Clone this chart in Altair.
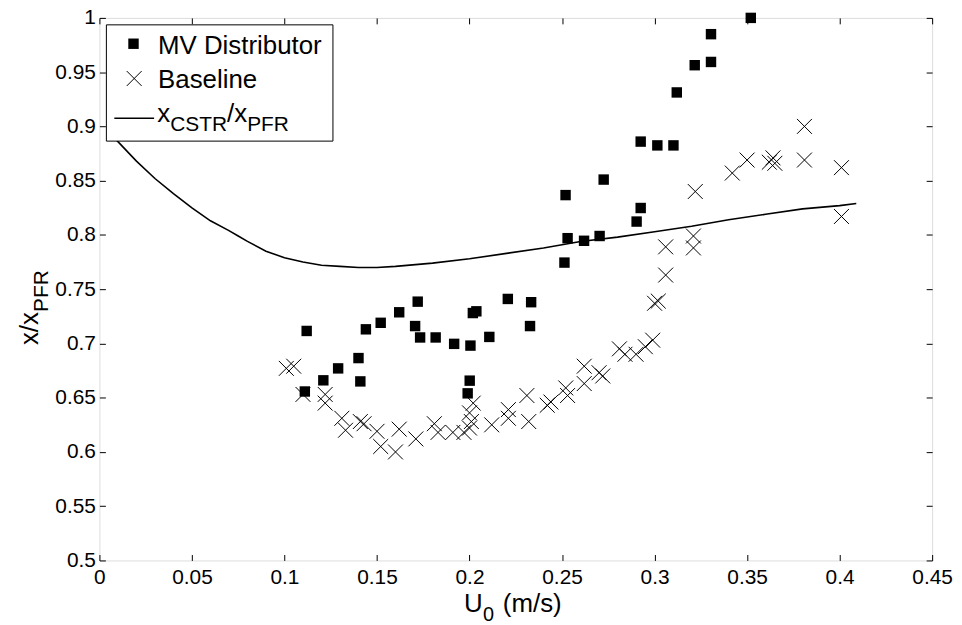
import altair as alt
import pandas as pd

# ---------------- data ----------------
mv_u = [0.112, 0.111, 0.121, 0.129, 0.140, 0.141, 0.144, 0.152, 0.162, 0.172,
        0.1706, 0.1733, 0.1817, 0.1917, 0.2005, 0.2018, 0.2037, 0.2107, 0.2207, 0.2333,
        0.2327, 0.2001, 0.199, 0.2519, 0.253, 0.2513, 0.2619, 0.2703, 0.2725, 0.2925,
        0.2903, 0.2925, 0.3015, 0.3102, 0.312, 0.3217, 0.3305, 0.3305, 0.352]
mv_x = [0.7115, 0.6557, 0.666, 0.677, 0.6865, 0.665, 0.713, 0.719, 0.7287, 0.7385,
        0.716, 0.7055, 0.7055, 0.6996, 0.698, 0.728, 0.7296, 0.706, 0.741, 0.738,
        0.716, 0.6657, 0.654, 0.8367, 0.797, 0.7745, 0.7946, 0.799, 0.851, 0.8248,
        0.8123, 0.886, 0.8825, 0.8825, 0.9313, 0.9564, 0.9594, 0.985, 1.0]

base_u = [0.101, 0.105, 0.110, 0.122, 0.122, 0.131, 0.133, 0.141, 0.143, 0.150,
          0.152, 0.160, 0.162, 0.171, 0.181, 0.183, 0.191, 0.197, 0.200, 0.200,
          0.202, 0.201, 0.212, 0.221, 0.221, 0.231, 0.232, 0.242, 0.244, 0.252,
          0.253, 0.262, 0.262, 0.270, 0.272, 0.281, 0.284, 0.290, 0.295, 0.299,
          0.300, 0.302, 0.306, 0.306, 0.321, 0.321, 0.322, 0.342, 0.350, 0.362,
          0.364, 0.365, 0.381, 0.381, 0.401, 0.401]
base_x = [0.677, 0.679, 0.653, 0.653, 0.645, 0.631, 0.620, 0.628, 0.626, 0.619,
          0.605, 0.600, 0.621, 0.612, 0.626, 0.618, 0.618, 0.618, 0.622, 0.636,
          0.645, 0.628, 0.625, 0.639, 0.631, 0.652, 0.628, 0.643, 0.646, 0.659,
          0.652, 0.679, 0.663, 0.673, 0.670, 0.695, 0.690, 0.690, 0.697, 0.703,
          0.737, 0.739, 0.763, 0.789, 0.799, 0.788, 0.840, 0.857, 0.869, 0.867,
          0.871, 0.866, 0.900, 0.869, 0.862, 0.817]

curve_u = [0.005, 0.01, 0.02, 0.03, 0.04, 0.05, 0.06, 0.07, 0.075, 0.08, 0.09, 0.10,
           0.11, 0.12, 0.13, 0.14, 0.15, 0.16, 0.18, 0.20, 0.22, 0.24, 0.26, 0.28,
           0.30, 0.32, 0.34, 0.36, 0.38, 0.40, 0.409]
curve_x = [0.895, 0.886, 0.868, 0.852, 0.838, 0.825, 0.813, 0.804, 0.799, 0.794,
           0.785, 0.779, 0.775, 0.772, 0.771, 0.770, 0.770, 0.771, 0.774, 0.778,
           0.783, 0.788, 0.794, 0.798, 0.803, 0.808, 0.814, 0.819, 0.824, 0.827,
           0.829]

x_ticks = [0, 0.05, 0.1, 0.15, 0.2, 0.25, 0.3, 0.35, 0.4, 0.45]
y_ticks = [0.5, 0.55, 0.6, 0.65, 0.7, 0.75, 0.8, 0.85, 0.9, 0.95, 1.0]

# ---------------- chart ----------------
W, H = 838, 546
FONT = "Liberation Sans"
CROSS = "M-1,-1L1,1M-1,1L1,-1"

mv_df = pd.DataFrame({"u": mv_u, "x": mv_x})
base_df = pd.DataFrame({"u": base_u, "x": base_x})
curve_df = pd.DataFrame({"u": curve_u, "x": curve_x})
one = pd.DataFrame({"k": [0]})

xs = alt.Scale(domain=[0, 0.45], nice=False, zero=False)
ys = alt.Scale(domain=[0.5, 1.0], nice=False, zero=False)


def label_axis(orient, values, pad):
    return alt.Axis(orient=orient, values=values, format=".2~f", ticks=False, tickSize=0,
                    domain=False, grid=False, labelFontSize=21, labelFont=FONT,
                    labelColor="black", labelPadding=pad, title="", labelFlush=False,
                    labelOverlap=False)


def tick_axis(orient, values):
    return alt.Axis(orient=orient, values=values, offset=-6, ticks=True, tickSize=6,
                    tickColor="black", tickWidth=1, labels=False, domain=False,
                    grid=False, title="")


curve = alt.Chart(curve_df).mark_line(color="black", strokeWidth=1.6).encode(
    x=alt.X("u:Q", scale=xs, axis=label_axis("bottom", x_ticks, 6)),
    y=alt.Y("x:Q", scale=ys, axis=label_axis("left", y_ticks, 4)),
    order="u:Q",
)

squares = alt.Chart(mv_df).mark_point(shape="square", filled=True, size=110,
                                      color="black", opacity=1).encode(
    x=alt.X("u:Q", scale=xs, axis=tick_axis("bottom", x_ticks)),
    y=alt.Y("x:Q", scale=ys, axis=tick_axis("left", y_ticks)),
)

crosses = alt.Chart(base_df).mark_point(shape=CROSS, filled=False, size=225,
                                        stroke="black", strokeWidth=1, opacity=1).encode(
    x=alt.X("u:Q", scale=xs, axis=tick_axis("top", x_ticks)),
    y=alt.Y("x:Q", scale=ys, axis=tick_axis("right", y_ticks)),
)


def txt(s, x, y, size, angle=0, align="left"):
    return alt.Chart(one).mark_text(text=s, font=FONT, fontSize=size, align=align,
                                    baseline="alphabetic", angle=angle,
                                    color="black").encode(x=alt.value(x), y=alt.value(y))


legend_box = alt.Chart(one).mark_rect(fill="white", stroke="black", strokeWidth=1).encode(
    x=alt.value(7), x2=alt.value(235), y=alt.value(7), y2=alt.value(124))
leg_sq = alt.Chart(one).mark_point(shape="square", filled=True, size=110, color="black",
                                   opacity=1).encode(x=alt.value(34.3), y=alt.value(26))
leg_cr = alt.Chart(one).mark_point(shape=CROSS, filled=False, size=225, stroke="black",
                                   strokeWidth=1, opacity=1).encode(x=alt.value(35), y=alt.value(61))
leg_ln = alt.Chart(one).mark_rule(color="black", strokeWidth=1.6).encode(
    x=alt.value(15), x2=alt.value(55), y=alt.value(101))

texts = [
    txt("MV Distributor", 59, 36.6, 26),
    txt("Baseline", 59, 70.3, 26),
    txt("x", 58.3, 104.3, 26),
    txt("CSTR", 71.3, 114, 21),
    txt("/x", 128.5, 104.3, 26),
    txt("PFR", 148.7, 114, 21),
    # x axis title
    txt("U", 367, 597.6, 26),
    txt("0", 386, 607, 20),
    txt("(m/s)", 406, 597.6, 26),
    # y axis title
    txt("x/x", -62, 296, 26, angle=270, align="right"),
    txt("PFR", -52, 296, 21, angle=270, align="left"),
]

chart = alt.layer(curve, squares, crosses, legend_box, leg_sq, leg_cr, leg_ln, *texts).resolve_axis(
    x="independent", y="independent"
).properties(
    width=W, height=H,
    autosize=alt.AutoSizeParams(type="none"),
    padding={"left": 92, "top": 8, "right": 22, "bottom": 63},
).configure_view(stroke="black", strokeWidth=1).configure(background="white")

chart.save("out.html", embed_options={"renderer": "svg", "actions": False})
